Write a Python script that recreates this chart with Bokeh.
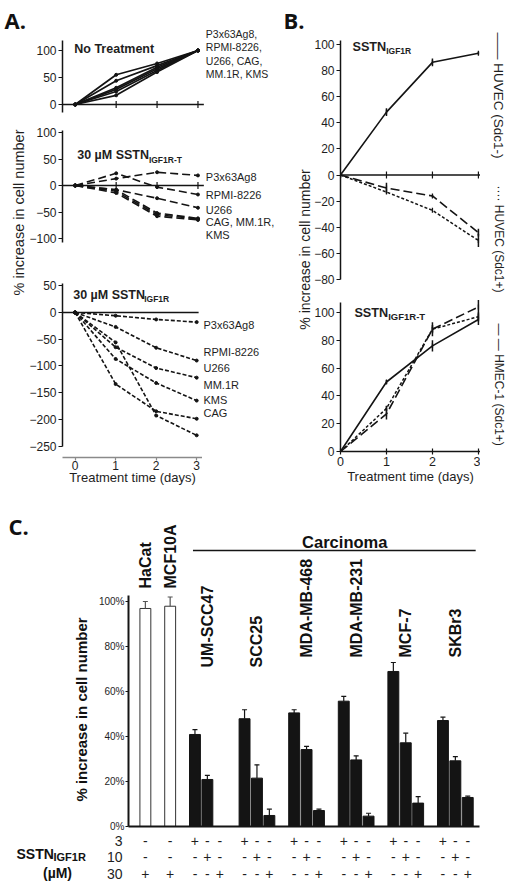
import math
from bokeh.plotting import figure
from bokeh.models import Range1d, FixedTicker, PrintfTickFormatter
from bokeh.layouts import column, row
from bokeh.embed import file_html
from bokeh.resources import INLINE
from bokeh.core.properties import value

# ---------------------------------------------------------------- DATA
days = [0, 1, 2, 3]

# Panel A : % increase in cell number of myeloma lines
nt_p3x = [0, 55, 76, 100]
nt_rpmi = [0, 44, 72, 100]
nt_u266 = [0, 31, 69, 100]
nt_cag = [0, 28, 66, 100]
nt_mm1r = [0, 24, 63, 100]
nt_kms = [0, 17, 60, 100]

t_p3x = [0, 13, 25, 19]
t_rpmi = [0, 23, -3, -17]
t_u266 = [0, -8, -24, -42]
t_cag = [0, -8, -52, -62]
t_mm1r = [0, -11, -55, -63]
t_kms = [0, -14, -58, -65]

s_p3x = [0, -6, -13, -18]
s_rpmi = [0, -27, -66, -90]
s_u266 = [0, -65, -104, -122]
s_mm1r = [0, -87, -132, -165]
s_kms = [0, -134, -185, -199]
s_cag = [0, -56, -193, -230]

nt_labels = ["P3x63Ag8,", "RPMI-8226,", "U266, CAG,", "MM.1R, KMS"]
t_labels = ["P3x63Ag8", "RPMI-8226", "U266", "CAG, MM.1R,", "KMS"]
s_labels = ["P3x63Ag8", "RPMI-8226", "U266", "MM.1R", "KMS", "CAG"]

# Panel B : endothelial / epithelial lines
b1_neg = [0, 48, 86, 93]
b1_neg_err = [0, 3, 3, 1]
b1_pos = [0, -13, -27, -50]
b1_pos_err = [0, 0, 0, 5]
b1_hmec = [0, -10, -16, -44]
b1_hmec_err = [0, 4, 1, 3]
b2_neg = [0, 50, 76, 95]
b2_neg_err = [0, 1.5, 4, 4]
b2_pos = [0, 31, 88, 97]
b2_pos_err = [0, 2, 3, 3]
b2_hmec = [0, 27, 88, 104]
b2_hmec_err = [0, 4, 5, 5]
legend_b = ["\u2014\u2014 HUVEC (Sdc1-)", "\u00b7\u00b7\u00b7\u00b7 HUVEC (Sdc1+)", "\u2014 \u2014 HMEC-1 (Sdc1+)"]

# Panel C : carcinoma bars
normal_lines = ["HaCat", "MCF10A"]
normal_vals = [96.9, 97.9]
normal_err = [3.1, 4.1]
carcinoma_lines = ["UM-SCC47", "SCC25", "MDA-MB-468", "MDA-MB-231", "MCF-7", "SKBr3"]
c_3uM = [40.9, 47.9, 50.5, 55.7, 68.9, 47.1]
c_3uM_err = [2.2, 4.0, 1.4, 2.1, 4.0, 1.5]
c_10uM = [20.9, 21.5, 34.2, 29.6, 37.2, 29.2]
c_10uM_err = [1.8, 5.9, 1.4, 1.8, 4.3, 1.9]
c_30uM = [-0.5, 4.9, 7.1, 4.6, 10.4, 12.9]
c_30uM_err = [0.3, 2.8, 0.6, 1.3, 2.9, 0.6]
doses = ["3", "10", "30"]
c_ticks = [0, 20, 40, 60, 80, 100]

# ---------------------------------------------------------------- STYLE
FONT = "Liberation Sans"
LETTER = "Open Sans"
INK = "#141414"
TXT = "#1e1e1e"


class Geo:
    """page-pixel geometry of one figure and its data mapping"""
    def __init__(self, left, top, width, height, frame, x0, sx, y0, sy):
        self.left, self.top, self.width, self.height = left, top, width, height
        self.fl, self.ft, self.fr, self.fb = frame
        self.x0, self.sx, self.y0, self.sy = x0, sx, y0, sy

    def dx(self, px):
        return (px - self.x0) / self.sx

    def dy(self, py):
        return (self.y0 - py) / self.sy


def make_fig(g, **kw):
    p = figure(width=g.width, height=g.height,
               x_range=Range1d(g.dx(g.fl), g.dx(g.fr)),
               y_range=Range1d(g.dy(g.fb), g.dy(g.ft)),
               min_border_left=g.fl - g.left, min_border_right=g.left + g.width - g.fr,
               min_border_top=g.ft - g.top, min_border_bottom=g.top + g.height - g.fb,
               output_backend="svg", toolbar_location=None, **kw)
    p.outline_line_color = None
    p.grid.visible = False
    p.border_fill_color = "white"
    p.background_fill_color = "white"
    return p


def strip(g):
    return make_fig(g, x_axis_location=None, y_axis_location=None)


def style_axis(ax, ticks, bounds, size="12px", font=FONT, width=1.5, tick_out=4, tick_in=0, standoff=2):
    ax.ticker = FixedTicker(ticks=ticks)
    ax.bounds = bounds
    ax.axis_line_color = INK
    ax.axis_line_width = width
    ax.major_tick_line_color = INK
    ax.major_tick_line_width = 1.2
    ax.major_tick_out = tick_out
    ax.major_tick_in = tick_in
    ax.minor_tick_line_color = None
    ax.major_label_text_font = font
    ax.major_label_text_font_size = size
    ax.major_label_text_color = TXT
    ax.major_label_standoff = standoff


def x_label(ax, s, standoff):
    ax.axis_label = s
    ax.axis_label_text_font = FONT
    ax.axis_label_text_font_size = "13px"
    ax.axis_label_text_font_style = "normal"
    ax.axis_label_text_color = TXT
    ax.axis_label_standoff = standoff


def txt(p, g, px, py, s, size, bold=False, align="left", baseline="middle",
        angle=0.0, font=FONT, color=TXT):
    p.text(x=[g.dx(px)], y=[g.dy(py)], text=[s], angle=angle,
           text_font=value(font), text_font_size=size,
           text_font_style="bold" if bold else "normal",
           text_align=align, text_baseline=baseline, text_color=color)


def err_bars(p, ys, errs, color, width=1.5):
    xs = [d for d, e in zip(days, errs) if e > 0]
    lo = [y - e for y, e in zip(ys, errs) if e > 0]
    hi = [y + e for y, e in zip(ys, errs) if e > 0]
    p.segment(x0=xs, y0=lo, x1=xs, y1=hi, line_color=color, line_width=width)


# ---------------------------------------------------------------- GEOMETRY (page px)
AX0, ASX = 71, 41.67
BX0, BSX = 339, 46.3
CX0, CSX = 142, 12.5

gSA = Geo(0, 0, 26, 492, (0, 0, 26, 492), 0, 1, 0, 1)
gA1 = Geo(26, 0, 252, 120, (58, 24, 275, 112), AX0, ASX, 104, 0.54)
gA2 = Geo(26, 120, 252, 142, (58, 126, 275, 262), AX0, ASX, 185, 0.53)
gA3 = Geo(26, 262, 176, 230, (58, 275, 202, 457), AX0, ASX, 312, 0.534)
gA3L = Geo(202, 262, 76, 230, (202, 262, 278, 492), 0, 1, 0, 1)
gSB = Geo(278, 0, 33, 492, (278, 0, 311, 492), 0, 1, 0, 1)
gB1 = Geo(311, 0, 169, 295, (339, 24, 480, 295), BX0, BSX, 174.5, 1.31)
gB2 = Geo(311, 295, 169, 197, (339, 298, 480, 451), BX0, BSX, 451, 1.39)
gBL = Geo(480, 0, 32, 492, (480, 0, 512, 492), 0, 1, 0, 1)
gSC = Geo(0, 492, 95, 395, (0, 492, 95, 887), 0, 1, 0, 1)
gC = Geo(95, 492, 417, 340, (125, 515, 498, 826), CX0, CSX, 826, 2.25)
gT = Geo(95, 832, 417, 55, (125, 832, 498, 887), CX0, CSX, 889.5, 16.5)

A_AXIS = (gA1.dx(58), gA1.dx(202))
B_AXIS = (0, gB1.dx(480))

# ---------------------------------------------------------------- PANEL A
pSA = strip(gSA)
txt(pSA, gSA, 4, 19, "A.", "22px", bold=True, font=LETTER, color="#111")
txt(pSA, gSA, 18, 212, "% increase in cell number", "14.5px", align="center", angle=math.pi / 2)

pA1 = make_fig(gA1, x_axis_location=None)
style_axis(pA1.yaxis[0], [0, 50, 100], (gA1.dy(112), gA1.dy(40)))
pA1.segment(x0=[A_AXIS[0]], y0=[0], x1=[A_AXIS[1]], y1=[0], line_color=INK, line_width=1.5)
pA1.scatter(days[1:], [0, 0, 0], marker="dash", angle=math.pi / 2, size=7, line_color=INK, line_width=1.2)
for ys in [nt_p3x, nt_rpmi, nt_u266, nt_cag, nt_mm1r, nt_kms]:
    pA1.line(days, ys, line_color=INK, line_width=1.7)
    pA1.scatter(days, ys, size=3, color=INK)
txt(pA1, gA1, 70, 48, "No Treatment", "12.5px", bold=True)
for s, py in zip(nt_labels, [33, 46, 60, 73]):
    txt(pA1, gA1, 204, py, s, "10.5px")

pA2 = make_fig(gA2, x_axis_location=None)
style_axis(pA2.yaxis[0], [-100, -50, 0, 50, 100], (gA2.dy(242), gA2.dy(130)))
pA2.segment(x0=[A_AXIS[0]], y0=[0], x1=[A_AXIS[1]], y1=[0], line_color=INK, line_width=1.5)
pA2.scatter(days[1:], [0, 0, 0], marker="dash", angle=math.pi / 2, size=7, line_color=INK, line_width=1.2)
for ys in [t_p3x, t_rpmi, t_u266, t_cag, t_mm1r, t_kms]:
    pA2.line(days, ys, line_color=INK, line_width=1.6, line_dash="8 4")
    pA2.scatter(days, ys, size=3, color=INK)
txt(pA2, gA2, 73, 154, "30 \u00b5M SSTN", "12.5px", bold=True)
txt(pA2, gA2, 146, 159, "IGF1R-T", "8.5px", bold=True)
for s, py in zip(t_labels, [176, 194, 209, 221, 234]):
    txt(pA2, gA2, 204, py, s, "11px")

pA3 = make_fig(gA3)
style_axis(pA3.yaxis[0], [-250, -200, -150, -100, -50, 0, 50], (gA3.dy(446), gA3.dy(283)))
style_axis(pA3.xaxis[0], days, (A_AXIS[0], A_AXIS[1]), tick_out=3, standoff=0)
pA3.xaxis[0].axis_line_color = "#8a8a8a"
pA3.xaxis[0].major_tick_line_color = "#8a8a8a"
x_label(pA3.xaxis[0], "Treatment time (days)", -3)
pA3.segment(x0=[A_AXIS[0]], y0=[0], x1=[gA3.dx(198)], y1=[0], line_color=INK, line_width=1.5)
for ys in [s_p3x, s_rpmi, s_u266, s_mm1r, s_kms, s_cag]:
    pA3.line(days, ys, line_color=INK, line_width=1.6, line_dash="4 2")
    pA3.scatter(days, ys, size=3, color=INK)
txt(pA3, gA3, 69, 294, "30 \u00b5M SSTN", "12.5px", bold=True)
txt(pA3, gA3, 142, 298, "IGF1R", "8.5px", bold=True)

pA3L = strip(gA3L)
for s, py in zip(s_labels, [324, 359, 379, 401, 419, 436]):
    txt(pA3L, gA3L, 203, py, s, "11px")

# ---------------------------------------------------------------- PANEL B
pSB = strip(gSB)
txt(pSB, gSB, 283, 19, "B.", "22px", bold=True, font=LETTER, color="#111")
txt(pSB, gSB, 304, 249, "% increase in cell number", "14px", align="center", angle=math.pi / 2)

pB1 = make_fig(gB1, x_axis_location=None)
style_axis(pB1.yaxis[0], [-80, -60, -40, -20, 0, 20, 40, 60, 80, 100], (-80, gB1.dy(40)))
pB1.segment(x0=[B_AXIS[0]], y0=[0], x1=[B_AXIS[1]], y1=[0], line_color=INK, line_width=1.5)
pB1.scatter(days[1:], [0, 0, 0], marker="dash", angle=math.pi / 2, size=7, line_color=INK, line_width=1.2)
pB1.line(days, b1_neg, line_color=INK, line_width=1.6)
pB1.line(days, b1_pos, line_color=INK, line_width=1.5, line_dash="3 2")
pB1.line(days, b1_hmec, line_color=INK, line_width=1.6, line_dash="9 4")
for ys, es in [(b1_neg, b1_neg_err), (b1_pos, b1_pos_err), (b1_hmec, b1_hmec_err)]:
    pB1.scatter(days, ys, marker="dash", angle=math.pi / 2, size=5, line_color=INK, line_width=1.3)
    err_bars(pB1, ys, es, INK)
txt(pB1, gB1, 351, 46, "SSTN", "12.7px", bold=True)
txt(pB1, gB1, 385, 50, "IGF1R", "8.5px", bold=True)

pB2 = make_fig(gB2)
style_axis(pB2.yaxis[0], [0, 20, 40, 60, 80, 100], (0, gB2.dy(302)))
style_axis(pB2.xaxis[0], days, (0, gB2.dx(480)), size="12.5px", tick_out=3, tick_in=3, standoff=2)
x_label(pB2.xaxis[0], "Treatment time (days)", 0)
pB2.line(days, b2_neg, line_color=INK, line_width=1.6)
pB2.line(days, b2_pos, line_color=INK, line_width=1.5, line_dash="3 2")
pB2.line(days, b2_hmec, line_color=INK, line_width=1.6, line_dash="9 4")
for ys, es in [(b2_neg, b2_neg_err), (b2_pos, b2_pos_err), (b2_hmec, b2_hmec_err)]:
    pB2.scatter(days, ys, marker="dash", angle=math.pi / 2, size=5, line_color=INK, line_width=1.3)
    err_bars(pB2, ys, es, INK)
txt(pB2, gB2, 353, 312, "SSTN", "12.7px", bold=True)
txt(pB2, gB2, 387, 316, "IGF1R-T", "9.5px", bold=True)

pBL = strip(gBL)
for s, py, fs in zip(legend_b, [32, 185, 323], ["13.5px", "12px", "12px"]):
    txt(pBL, gBL, 498, py, s, fs, angle=-math.pi / 2)

# ---------------------------------------------------------------- PANEL C
normal_x = [0, 2]
group_x = [4 + 4 * g for g in range(len(carcinoma_lines))]
x3 = [g for g in group_x]
x10 = [g + 1 for g in group_x]
x30 = [g + 2 for g in group_x]
BAR_W = 0.88

pC = make_fig(gC)
style_axis(pC.yaxis[0], c_ticks, (0, gC.dy(595)), size="10px", width=2, tick_out=3, standoff=1)
pC.yaxis[0].formatter = PrintfTickFormatter(format="%d%%")
xax = pC.xaxis[0]
xax.ticker = FixedTicker(ticks=[])
xax.bounds = (gC.dx(125), gC.dx(479))
xax.axis_line_width = 2
xax.axis_line_color = INK
xax.major_tick_line_color = None
xax.minor_tick_line_color = None
xax.major_tick_out = 0
xax.major_tick_in = 0
xax.major_label_standoff = 0
xax.major_label_text_font_size = "0px"

pC.vbar(x=normal_x, top=normal_vals, bottom=0, width=BAR_W, fill_color="white", line_color="#333333", line_width=1)
tops_n = [v + e for v, e in zip(normal_vals, normal_err)]
pC.segment(x0=normal_x, y0=normal_vals, x1=normal_x, y1=tops_n, line_color="#555555", line_width=1.2)
pC.scatter(normal_x, tops_n, marker="dash", size=5, line_color="#555555", line_width=1.2)
for xs, vals, errs in [(x3, c_3uM, c_3uM_err), (x10, c_10uM, c_10uM_err), (x30, c_30uM, c_30uM_err)]:
    pC.vbar(x=xs, top=vals, bottom=0, width=BAR_W, fill_color=INK, line_color=INK, line_width=1)
    tops = [v + e for v, e in zip(vals, errs)]
    pC.segment(x0=xs, y0=vals, x1=xs, y1=tops, line_color=INK, line_width=1.2)
    pC.scatter(xs, tops, marker="dash", size=5, line_color=INK, line_width=1.2)

name_x = normal_x + x10
name_bottom_px = [588, 588, 667, 667, 657, 657, 657, 657]
pC.text(x=name_x, y=[gC.dy(py) for py in name_bottom_px], text=normal_lines + carcinoma_lines,
        angle=math.pi / 2, text_font=value(FONT), text_font_size="16px", text_font_style="bold",
        text_align="left", text_baseline="middle", text_color="#111")
pC.segment(x0=[gC.dx(190)], y0=[gC.dy(550)], x1=[gC.dx(475)], y1=[gC.dy(550)], line_color=INK, line_width=1.5)
txt(pC, gC, 343, 541, "Carcinoma", "16.5px", bold=True, align="center", color="#111")

pT = make_fig(gT, x_axis_location=None)
tax = pT.yaxis[0]
style_axis(tax, [1, 2, 3], "auto", size="14px", tick_out=0, standoff=6)
tax.axis_line_color = None
tax.major_tick_line_color = None
tax.major_label_overrides = {3: doses[0], 2: doses[1], 1: doses[2]}
all_x, all_y, all_t = [], [], []
for xv in normal_x:
    for r, d in zip([3, 2, 1], doses):
        all_x.append(xv); all_y.append(r); all_t.append("+" if d == "30" else "-")
for k, xs in enumerate([x3, x10, x30]):
    for xv in xs:
        for j, r in enumerate([3, 2, 1]):
            all_x.append(xv); all_y.append(r); all_t.append("+" if j == k else "-")
pT.text(x=all_x, y=all_y, text=all_t, text_font=value(FONT), text_font_size="14px",
        text_align="center", text_baseline="middle", text_color=TXT)

pSC = strip(gSC)
txt(pSC, gSC, 8, 525, "C.", "22px", bold=True, font=LETTER, color="#111")
txt(pSC, gSC, 81, 709, "% increase in cell number", "15px", bold=True, align="center",
    angle=math.pi / 2, color="#111")
txt(pSC, gSC, 16, 853, "SSTN", "14px", bold=True, color="#111")
txt(pSC, gSC, 53, 856, "IGF1R", "11px", bold=True, color="#111")
txt(pSC, gSC, 57, 872, "(\u00b5M)", "14px", bold=True, align="center", color="#111")

# ---------------------------------------------------------------- LAYOUT
colA = row(pSA, column(pA1, pA2, row(pA3, pA3L)))
colB = row(pSB, column(pB1, pB2), pBL)
layout = column(row(colA, colB), row(pSC, column(pC, pT)))

open("out.html", "w").write(file_html(layout, INLINE))
